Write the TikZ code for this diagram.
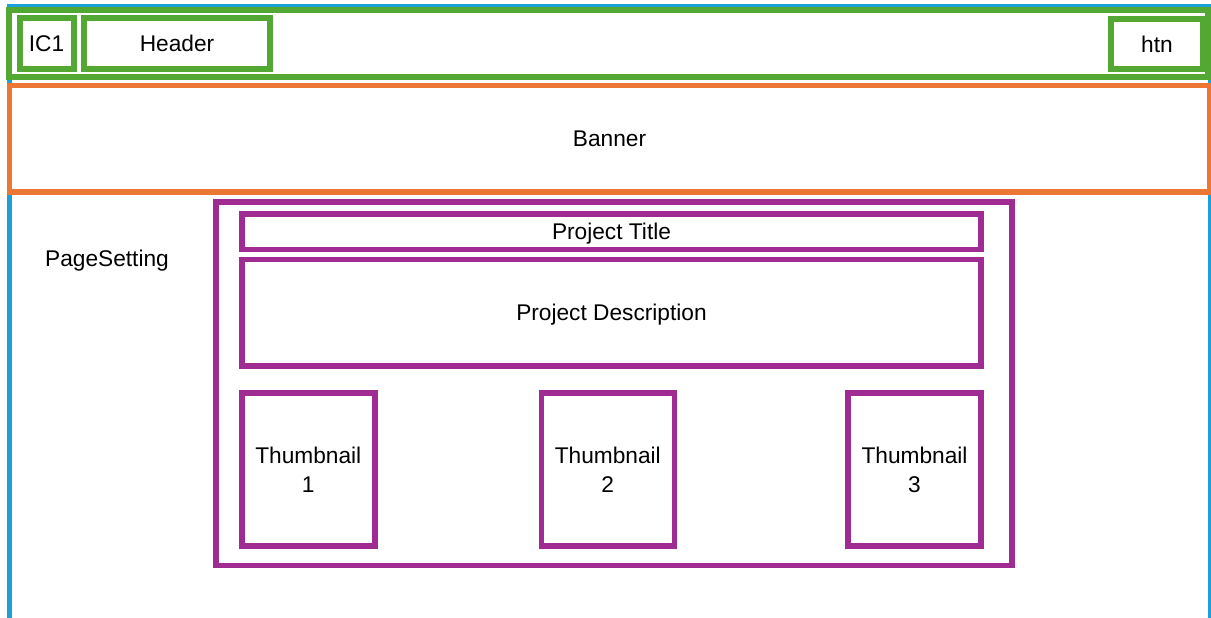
\documentclass[tikz,border=0pt]{standalone}
\usepackage{fontspec}
\setmainfont{Liberation Sans}
\usepackage{xcolor}
\definecolor{pageblue}{RGB}{28,160,216}
\definecolor{headgreen}{RGB}{82,168,50}
\definecolor{bannerorange}{RGB}{236,118,52}
\definecolor{projpurple}{RGB}{160,43,147}

\begin{document}
\begin{tikzpicture}[x=1pt,y=-1pt,
  txt/.style={inner sep=0pt,text=black,font=\fontsize{22.7}{29}\selectfont,align=center,
    text depth=0pt},
  gbox/.style={txt,draw=headgreen,line width=6pt},
  obox/.style={txt,draw=bannerorange,line width=5.5pt},
  pbox/.style={txt,draw=projpurple,line width=5.5pt}]
  \useasboundingbox[fill=white] (0,0) rectangle (1211,618);
  \clip (0,0) rectangle (1211,618);
  % page frame
  \draw[pageblue,line width=5pt] (9,7) rectangle (1210.5,700);
  % header
  \node[gbox,minimum width=1199pt,minimum height=67pt] (head) at (608.5,43.5) {};
  \node[gbox,minimum width=54pt,minimum height=51pt] (ic) at (46.5,43.5) {IC1};
  \node[gbox,minimum width=186pt,minimum height=51pt] (hdr) at (177,43.5) {Header};
  \node[gbox,minimum width=92pt,minimum height=50pt] (htn) at (1157,44) {htn};
  % banner
  \node[obox,minimum width=1200pt,minimum height=106.5pt] (banner) at (609.5,138.75) {Banner};
  \node[txt] (pgset) at (107,258) {PageSetting};
  % project block
  \node[pbox,minimum width=796pt,minimum height=363.5pt] (proj) at (614,383.75) {};
  \node[pbox,minimum width=739pt,minimum height=35.5pt] (title) at (611.5,231.75) {Project Title};
  \node[pbox,minimum width=739pt,minimum height=106.5pt] (desc) at (611.5,312.75) {Project Description};
  \foreach \n/\x in {1/308.25,2/607.75,3/914.5}
    \node[pbox,minimum width=133pt,minimum height=153pt] (thumb\n) at (\x,469.5) {Thumbnail\\\n};
\end{tikzpicture}
\end{document}
